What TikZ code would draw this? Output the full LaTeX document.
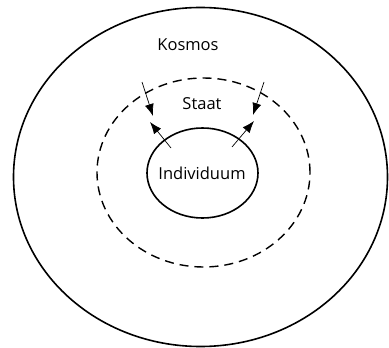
\documentclass[tikz,border=0pt]{standalone}
\usepackage{fontspec}
\setmainfont{Open Sans}
\usetikzlibrary{shapes.geometric,arrows.meta}
\begin{document}
\begin{tikzpicture}[x=1pt,y=-1pt,
  ring/.style={draw,ellipse,inner sep=0pt,line width=1.6pt},
  lbl/.style={font=\fontsize{16.5}{19}\selectfont},
  arr/.style={line width=0.7pt,-{Latex[length=12pt,width=9pt]}}]
\useasboundingbox (0,0) rectangle (389,348);
\node[ring,minimum width=374pt,minimum height=339pt] (kos) at (200.5,177) {};
\node[ring,dash pattern=on 9pt off 6pt,line width=1.4pt,minimum width=213pt,minimum height=189pt] (sta) at (203.5,172.5) {};
\node[ring,minimum width=111pt,minimum height=90pt] (ind) at (202.5,173) {};
\node[lbl] (tk) at (188,45) {Kosmos};
\node[lbl] (ts) at (202,104) {Staat};
\node[lbl] (ti) at (202,173) {Individuum};
\coordinate (a1) at (142,82);
\coordinate (a1t) at (153,116);
\coordinate (a2) at (264,82);
\coordinate (a2t) at (253,115);
\coordinate (b1) at (171,148);
\coordinate (b1t) at (150,122);
\coordinate (b2) at (232,147);
\coordinate (b2t) at (254,121);
\draw[arr] (a1) -- (a1t);
\draw[arr] (a2) -- (a2t);
\draw[arr] (b1) -- (b1t);
\draw[arr] (b2) -- (b2t);
\end{tikzpicture}
\end{document}
